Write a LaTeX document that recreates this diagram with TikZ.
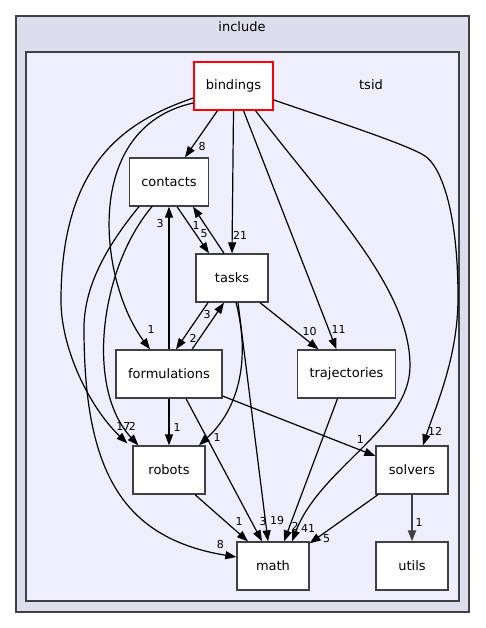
\documentclass[tikz,border=0pt]{standalone}
\usepackage{fontspec}
\setmainfont{DejaVu Sans}
\usetikzlibrary{arrows.meta}
\definecolor{outerfill}{HTML}{DDDDEE}
\definecolor{innerfill}{HTML}{EEEEFF}
\definecolor{framecol}{HTML}{404040}

\begin{document}
\begin{tikzpicture}[x=1pt,y=1pt,>={Triangle[length=11pt,width=8pt]},
    dir/.style={draw=framecol,fill=white,line width=1.3pt,minimum width=72pt,
      minimum height=48pt,inner xsep=12pt,font=\fontsize{13}{15}\selectfont},
    title/.style={font=\fontsize{13}{15}\selectfont},
    lab/.style={font=\fontsize{11}{13}\selectfont,inner sep=0pt},
    dep/.style={->,line width=1.2pt}]
    \useasboundingbox (0,0) rectangle (485,628);
    \filldraw[fill=outerfill,draw=framecol,line width=1.5pt] (16,16) rectangle (469,612);
    \filldraw[fill=innerfill,draw=framecol,line width=1.5pt] (26,27) rectangle (459,576);
    \node[title] (include) at (242,601) {include};
    \node[title] (tsid) at (371,543) {tsid};

    \node[dir,draw=red] (bindings) at (233.5,542) {bindings};
    \node[dir] (contacts) at (169,446) {contacts};
    \node[dir] (tasks) at (232,350) {tasks};
    \node[dir] (formulations) at (169,254) {formulations};
    \node[dir] (trajectories) at (346.5,254) {trajectories};
    \node[dir] (robots) at (169,158) {robots};
    \node[dir] (solvers) at (412,158) {solvers};
    \node[dir] (math) at (273,62) {math};
    \node[dir] (utils) at (412,62) {utils};

    % bindings
    \draw[dep] ([xshift=-16]bindings.south) -- node[lab,at end,xshift=17,yshift=11] {8} ([xshift=16]contacts.north);
    \draw[dep] (bindings.south) -- node[lab,at end,xshift=8,yshift=18] {21} (tasks.north);
    \draw[dep] ([yshift=-17]bindings.west) .. controls (80,500) and (100,345) ..
      node[lab,at end,xshift=1,yshift=20] {1} ([xshift=-19]formulations.north);
    \draw[dep] ([yshift=-12]bindings.west) .. controls (130,508) and (62,470) .. (61,330)
      .. controls (60,280) and (90,220) .. node[lab,at end,xshift=-4,yshift=17] {17} ([xshift=-5,yshift=2]robots.north west);
    \draw[dep] ([xshift=10]bindings.south) -- node[lab,at end,xshift=2,yshift=20] {11} ([xshift=-10]trajectories.north);
    \draw[dep] ([xshift=22]bindings.south) .. controls (330,420) and (410,340) .. (410,262)
      .. controls (410,200) and (320,160) .. node[lab,at end,xshift=16,yshift=13] {41} ([xshift=19]math.north);
    \draw[dep] ([yshift=-14]bindings.east) .. controls (350,502) and (410,482) .. (425,472)
      .. controls (440,462) and (458,420) .. (458,330)
      .. controls (458,270) and (435,220) .. node[lab,at end,xshift=12,yshift=14] {12} ([xshift=11]solvers.north);

    % contacts, tasks
    \draw[dep] ([xshift=8]contacts.south) -- node[lab,at end,xshift=-5,yshift=20] {5} ([xshift=-23]tasks.north);
    \draw[dep] ([xshift=-8]tasks.north) -- node[lab,at end,xshift=3,yshift=-19] {1} ([xshift=24]contacts.south);
    \draw[dep] ([xshift=-17]contacts.south) .. controls (100,360) and (85,240) ..
      node[lab,at end,xshift=-6,yshift=19] {2} ([xshift=6]robots.north west);
    \draw[dep] ([xshift=-30]contacts.south) .. controls (105,380) and (84,340) .. (84,300)
      .. controls (84,160) and (120,90) .. node[lab,at end,xshift=-16,yshift=13] {8} ([yshift=9]math.west);
    \draw[dep] ([xshift=-24]tasks.south) -- node[lab,at end,xshift=17,yshift=11] {2} ([xshift=7]formulations.north);
    \draw[dep] ([xshift=28]tasks.south) -- node[lab,at end,xshift=-9,yshift=18] {10} ([xshift=-28]trajectories.north);
    \draw[dep] ([xshift=4]tasks.south) .. controls (248,280) and (245,225) ..
      node[lab,at end,xshift=18,yshift=8] {1} ([xshift=30]robots.north);
    \draw[dep] ([xshift=6]tasks.south) -- node[lab,at end,xshift=9,yshift=21] {19} ([xshift=-5]math.north);

    % formulations
    \draw[dep] (formulations.north) -- node[lab,at end,xshift=-9,yshift=-17] {3} (contacts.south);
    \draw[dep] ([xshift=23]formulations.north) -- node[lab,at end,xshift=-17,yshift=-12] {3} ([xshift=-8]tasks.south);
    \draw[dep] (formulations.south) -- node[lab,at end,xshift=8,yshift=18] {1} (robots.north);
    \draw[dep] ([xshift=17]formulations.south) -- node[lab,at end,xshift=1,yshift=20] {3} ([xshift=-11]math.north);
    \draw[dep] ([yshift=-22]formulations.east) -- node[lab,at end,xshift=-15,yshift=17] {1} ([yshift=14]solvers.west);

    % lower row
    \draw[dep] ([xshift=-9]trajectories.south) -- node[lab,at end,xshift=11,yshift=15] {2} ([xshift=11]math.north);
    \draw[dep] ([xshift=26]robots.south) -- node[lab,at end,xshift=-9,yshift=20] {1} ([xshift=-25]math.north);
    \draw[dep] ([xshift=-34]solvers.south) -- node[lab,at end,xshift=17,yshift=5] {5} ([yshift=-2]math.north east);
    \draw[dep,draw=framecol,line width=2pt] (solvers.south) -- node[lab,at end,xshift=7,yshift=19] {1} (utils.north);
\end{tikzpicture}
\end{document}
